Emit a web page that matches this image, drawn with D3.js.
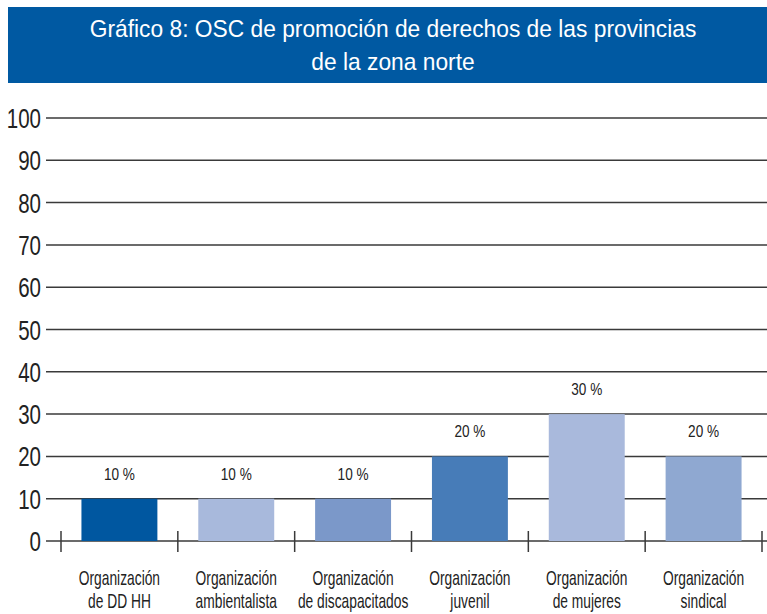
<!DOCTYPE html>
<html>
<head>
<meta charset="utf-8">
<script src="https://cdn.jsdelivr.net/npm/d3@7"></script>
<style>
  body { margin: 0; background: #fff; }
  svg text { font-family: "Liberation Sans", Arial, sans-serif; }
</style>
</head>
<body>
<svg id="chart" width="767" height="614"></svg>
<script>
// data
const categories = [
    ["Organización", "de DD HH"],
    ["Organización", "ambientalista"],
    ["Organización", "de discapacitados"],
    ["Organización", "juvenil"],
    ["Organización", "de mujeres"],
    ["Organización", "sindical"]
];
const values = [10, 10, 10, 20, 30, 20];
const barColors = ["#0057a0", "#a8b9dc", "#7b98c9", "#477cb8", "#a9b9dc", "#8fa8d1"];
const yTicks = [0, 10, 20, 30, 40, 50, 60, 70, 80, 90, 100];
const titleLines = ["Gráfico 8: OSC de promoción de derechos de las provincias", "de la zona norte"];

const svg = d3.select("#chart");

// narrow text: the source font is a condensed face, so squeeze horizontally
function narrow(sel, x, y, sx) {
    return sel.attr("transform", (d, i) => `translate(${x(d, i)},${y(d, i)}) scale(${sx},1)`);
}

// title banner
svg.append("rect")
    .attr("x", 8).attr("y", 7)
    .attr("width", 759).attr("height", 76)
    .attr("fill", "#0059a2");

narrow(svg.append("g").selectAll("text")
    .data(titleLines)
    .enter()
    .append("text")
    .attr("text-anchor", "middle")
    .attr("fill", "#fff")
    .attr("font-size", 24)
    .text(d => d), () => 393, (d, i) => 37 + i * 33, 0.95);

// scales
const x = d3.scaleBand()
    .domain(d3.range(categories.length))
    .range([61, 762])
    .paddingInner(0.35)
    .paddingOuter(0.175);

const y = d3.scaleLinear()
    .domain([0, 100])
    .range([541, 118]);

// grid lines
svg.append("g").selectAll("line")
    .data(yTicks)
    .enter()
    .append("line")
    .attr("x1", 46).attr("x2", 767)
    .attr("y1", d => y(d)).attr("y2", d => y(d))
    .attr("stroke", "#3a3a3a")
    .attr("stroke-width", 1.5);

// y labels
narrow(svg.append("g").selectAll("text")
    .data(yTicks)
    .enter()
    .append("text")
    .attr("text-anchor", "end")
    .attr("fill", "#222")
    .attr("font-size", 27)
    .text(d => d), () => 41, d => y(d) + 10, 0.76);

// value labels with white background that breaks the grid
const lab = svg.append("g").selectAll("g")
    .data(values)
    .enter()
    .append("g");

lab.append("rect")
    .attr("x", (d, i) => x(i))
    .attr("y", d => y(d) - 38)
    .attr("width", x.bandwidth())
    .attr("height", 26)
    .attr("fill", "#fff");

narrow(lab.append("text")
    .attr("text-anchor", "middle")
    .attr("fill", "#222")
    .attr("font-size", 17)
    .text(d => d + " %"), (d, i) => x(i) + x.bandwidth() / 2, d => y(d) - 19, 0.8);

// bars
svg.append("g").selectAll("rect")
    .data(values)
    .enter()
    .append("rect")
    .attr("x", (d, i) => x(i))
    .attr("y", d => y(d))
    .attr("width", x.bandwidth())
    .attr("height", d => y(0) - y(d))
    .attr("fill", (d, i) => barColors[i]);

// category separators on the base line
const sep = d3.range(categories.length + 1).map(i => 61 + i * x.step());
svg.append("g").selectAll("line")
    .data(sep)
    .enter()
    .append("line")
    .attr("x1", d => d).attr("x2", d => d)
    .attr("y1", y(0) - 10).attr("y2", y(0) + 11)
    .attr("stroke", "#3a3a3a")
    .attr("stroke-width", 1.5);

// category labels
const cat = narrow(svg.append("g").selectAll("text")
    .data(categories)
    .enter()
    .append("text")
    .attr("text-anchor", "middle")
    .attr("fill", "#222")
    .attr("font-size", 20), (d, i) => x(i) + x.bandwidth() / 2, () => 585, 0.69);

cat.selectAll("tspan")
    .data(d => d)
    .enter()
    .append("tspan")
    .attr("x", 0)
    .attr("dy", (d, i) => i === 0 ? 0 : 23)
    .text(d => d);
</script>
</body>
</html>
